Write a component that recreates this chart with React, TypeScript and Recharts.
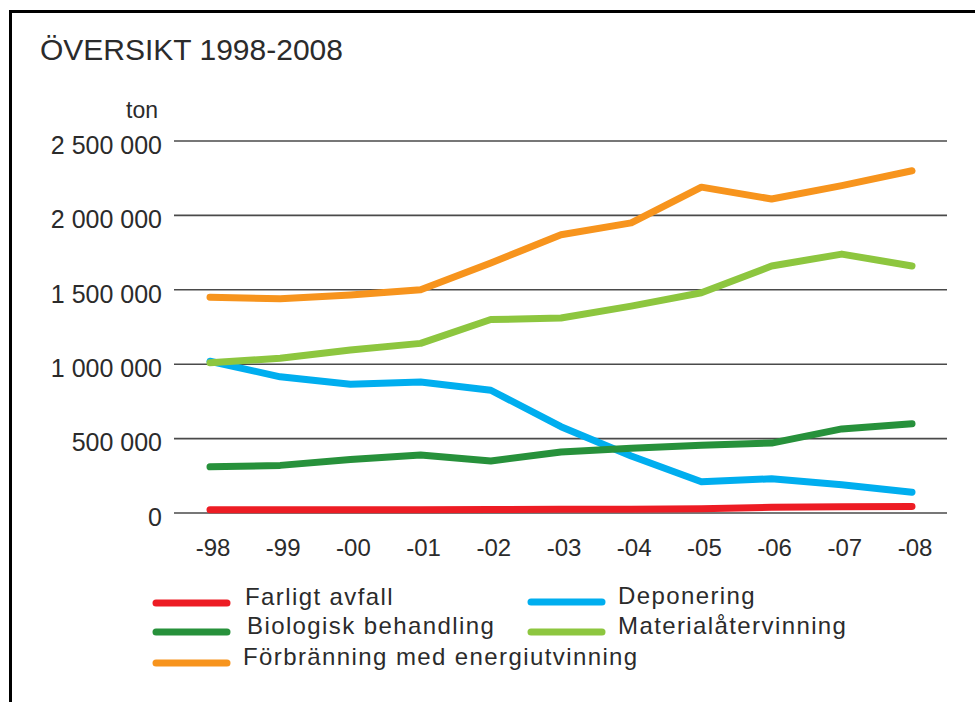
import React from "react";
import { LineChart, Line, XAxis, YAxis, CartesianGrid } from "recharts";

const years = ["-98", "-99", "-00", "-01", "-02", "-03", "-04", "-05", "-06", "-07", "-08"];

const farligtAvfall = [22000, 22000, 22000, 22000, 23000, 25000, 26000, 28000, 38000, 42000, 44000];
const deponering = [1020000, 915000, 865000, 880000, 825000, 580000, 383000, 210000, 230000, 190000, 140000];
const biologisk = [310000, 320000, 360000, 390000, 350000, 410000, 435000, 455000, 470000, 565000, 600000];
const material = [1010000, 1040000, 1095000, 1140000, 1300000, 1310000, 1390000, 1480000, 1660000, 1740000, 1660000];
const forbranning = [1450000, 1440000, 1465000, 1500000, 1680000, 1870000, 1950000, 2190000, 2110000, 2200000, 2300000];

const yTicks = [0, 500000, 1000000, 1500000, 2000000, 2500000];

const series = [
  { key: "farligt", name: "Farligt avfall", color: "#ED1C24", values: farligtAvfall },
  { key: "deponering", name: "Deponering", color: "#00AEEF", values: deponering },
  { key: "biologisk", name: "Biologisk behandling", color: "#27913B", values: biologisk },
  { key: "material", name: "Materialåtervinning", color: "#8DC63F", values: material },
  { key: "forbranning", name: "Förbränning med energiutvinning", color: "#F7941D", values: forbranning },
];

const data = years.map((y, i) => {
  const row: Record<string, string | number> = { year: y };
  series.forEach((s) => (row[s.key] = s.values[i]));
  return row;
});

const FONT = '"Liberation Sans", Arial, sans-serif';
const TEXT = "#2b2b2b";

// "2 500 000" style
const fmt = (v: number) => v.toString().replace(/\B(?=(\d{3})+(?!\d))/g, " ");

// legend slots: [swatch x, text x, baseline y]
const legendSlots: Record<string, [number, number, number]> = {
  farligt: [153, 245, 605],
  deponering: [528, 618, 604],
  biologisk: [153, 247, 634],
  material: [528, 618, 634],
  forbranning: [153, 243, 665],
};

export default function App() {
  return (
    <div style={{ position: "absolute", left: 0, top: 0, width: 975, height: 702, background: "#fff", overflow: "hidden" }}>
      <div
        style={{
          position: "absolute",
          left: 9,
          top: 10,
          width: 1000,
          height: 720,
          borderLeft: "3px solid #000",
          borderTop: "3px solid #000",
        }}
      />
      <LineChart
        width={975}
        height={702}
        data={data}
        margin={{ top: 141, right: 28, bottom: 149, left: 0 }}
        style={{ position: "absolute", left: 0, top: 0, fontFamily: FONT }}
      >
        <CartesianGrid vertical={false} stroke="#4a4a4a" strokeWidth={1.6} />
        <XAxis
          dataKey="year"
          height={40}
          padding={{ left: 36, right: 35 }}
          axisLine={false}
          tickLine={false}
          tickSize={0}
          tickMargin={26}
          interval={0}
          tick={{ fontSize: 24, fill: TEXT, fontFamily: FONT, dx: 3 }}
        />
        <YAxis
          width={174}
          domain={[0, 2500000]}
          ticks={yTicks}
          axisLine={false}
          tickLine={false}
          tickSize={0}
          tickMargin={12}
          tickFormatter={fmt}
          tick={{ fontSize: 25, fill: TEXT, fontFamily: FONT, dy: 4 }}
        />
        {series.map((s) => (
          <Line
            key={s.key}
            dataKey={s.key}
            name={s.name}
            type="linear"
            stroke={s.color}
            strokeWidth={7}
            strokeLinecap="round"
            strokeLinejoin="round"
            dot={false}
            activeDot={false}
            isAnimationActive={false}
          />
        ))}
      </LineChart>
      <svg width={975} height={702} style={{ position: "absolute", left: 0, top: 0, pointerEvents: "none" }}>
        <text x={40} y={60} fontSize={30} fill={TEXT} fontFamily={FONT}>
          ÖVERSIKT 1998-2008
        </text>
        <text x={158} y={118} fontSize={23} fill={TEXT} fontFamily={FONT} textAnchor="end">
          ton
        </text>
        {series.map((s) => {
          const [sx, tx, by] = legendSlots[s.key];
          return (
            <g key={s.key}>
              <line x1={sx + 3} x2={sx + 74} y1={by - 2} y2={by - 2} stroke={s.color} strokeWidth={7} strokeLinecap="round" />
              <text x={tx} y={by} fontSize={24} fill={TEXT} fontFamily={FONT} letterSpacing={1.4}>
                {s.name}
              </text>
            </g>
          );
        })}
      </svg>
    </div>
  );
}
